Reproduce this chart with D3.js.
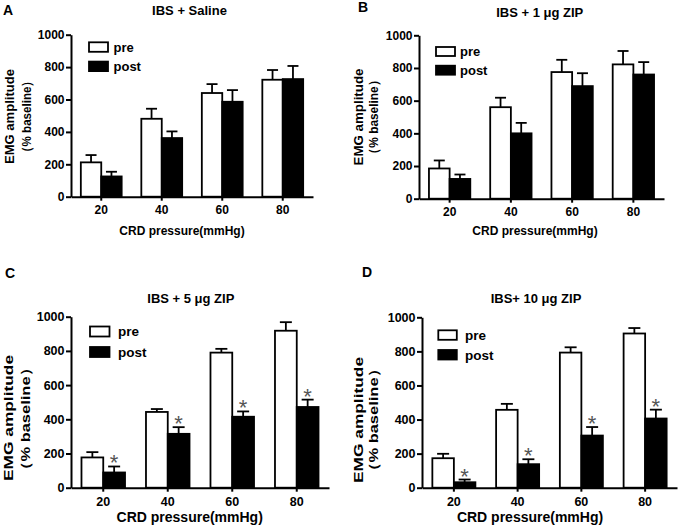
<!DOCTYPE html>
<html><head><meta charset="utf-8">
<script src="https://cdn.jsdelivr.net/npm/d3@7"></script>
<style>
body{margin:0;background:#fff}
svg{display:block}
text{font-family:"Liberation Sans",Arial,Helvetica,sans-serif;}
</style>
</head><body>
<svg id="c" width="679" height="530"></svg>
<script>
// ---------- data ----------
const categories = ["20", "40", "60", "80"];
const seriesNames = ["pre", "post"];
const titles = ["IBS + Saline", "IBS + 1 μg ZIP", "IBS + 5 μg ZIP", "IBS+ 10 μg ZIP"];
const letters = ["A", "B", "C", "D"];
const yTicks = [0, 200, 400, 600, 800, 1000];
const xLabel = "CRD pressure(mmHg)";
const yLabel1 = "EMG amplitude";
const yLabel2 = "（% baseline）";

const preA = [212, 481, 640, 722];
const preSemA = [45, 62, 55, 60];
const postA = [125, 362, 586, 726];
const postSemA = [29, 41, 72, 81];

const preB = [185, 560, 775, 822];
const preSemB = [49, 58, 75, 82];
const postB = [121, 400, 689, 760];
const postSemB = [27, 64, 79, 76];

const preC = [177, 443, 790, 918];
const preSemC = [31, 17, 22, 50];
const postC = [89, 315, 415, 472];
const postSemC = [35, 39, 31, 43];

const preD = [173, 457, 793, 905];
const preSemD = [26, 35, 31, 32];
const postD = [32, 138, 306, 406];
const postSemD = [16, 29, 50, 52];

const sigA = [0, 0, 0, 0];
const sigB = [0, 0, 0, 0];
const sigC = [1, 1, 1, 1];
const sigD = [1, 1, 1, 1];

// ---------- layout ----------
const panels = [
  {pre: preA, preSem: preSemA, post: postA, postSem: postSemA, sig: sigA,
   x0: 71, x1: 313, yb: 196.7, yt: 34.7,
   letter: [3, 15], title: [189.5, 15], xlab: [182, 235],
   yl1: [14.3, 116.5, 95], yl2: [31, 116.5, 83],
   leg: {x: 89, y: 42.3, w: 19, h: 9.5, dy: 19.3, tx: 113.5},
   tick: 12, xlabSize: 12, legSize: 13, cap: 11},
  {pre: preB, preSem: preSemB, post: postB, postSem: postSemB, sig: sigB,
   x0: 419, x1: 664, yb: 198.7, yt: 35.3,
   letter: [358, 11.5], title: [539.7, 17], xlab: [535, 235],
   yl1: [362.5, 117, 97], yl2: [378, 117, 85],
   leg: {x: 436, y: 47, w: 19, h: 9, dy: 18.7, tx: 460},
   tick: 12, xlabSize: 12, legSize: 13, cap: 11},
  {pre: preC, preSem: preSemC, post: postC, postSem: postSemC, sig: sigC,
   x0: 71, x1: 329, yb: 487.7, yt: 316.7,
   letter: [5, 278], title: [190.8, 302.7], xlab: [189.7, 522],
   yl1: [13, 418, 126], yl2: [29.5, 419, 118],
   leg: {x: 90, y: 326.5, w: 19.5, h: 10, dy: 20.5, tx: 118},
   tick: 12.5, xlabSize: 14, legSize: 13.5, cap: 12},
  {pre: preD, preSem: preSemD, post: postD, postSem: postSemD, sig: sigD,
   x0: 422, x1: 677, yb: 487.7, yt: 317.3,
   letter: [362, 277], title: [536, 302.7], xlab: [530, 522],
   yl1: [363, 420, 126], yl2: [377.5, 420, 118],
   leg: {x: 438.3, y: 330.3, w: 18.5, h: 9.5, dy: 19.7, tx: 465},
   tick: 12.5, xlabSize: 14, legSize: 13.5, cap: 12}
];

const svg = d3.select("#c");

panels.forEach((p, i) => {
  const g = svg.append("g");
  const x = d3.scaleBand().domain(categories).range([p.x0, p.x1])
    .paddingInner(0.325).paddingOuter(0.1625);
  const xs = d3.scaleBand().domain(seriesNames).range([0, x.bandwidth()]);
  const y = d3.scaleLinear().domain([0, 1000]).range([p.yb, p.yt]);

  const rows = categories.map((c, k) => ({c, k}));
  const series = [
    {name: "pre", vals: p.pre, sem: p.preSem, fill: "#fff"},
    {name: "post", vals: p.post, sem: p.postSem, fill: "#000"}
  ];
  series.forEach(s => {
    const sg = g.append("g");
    const cx = d => x(d.c) + xs(s.name) + xs.bandwidth() / 2;
    sg.selectAll("line.err").data(rows).join("line")
      .attr("x1", cx).attr("x2", cx)
      .attr("y1", d => y(s.vals[d.k]))
      .attr("y2", d => y(s.vals[d.k] + s.sem[d.k]))
      .attr("stroke", "#000").attr("stroke-width", 1.8);
    sg.selectAll("line.cap").data(rows).join("line")
      .attr("x1", d => cx(d) - p.cap / 2)
      .attr("x2", d => cx(d) + p.cap / 2)
      .attr("y1", d => y(s.vals[d.k] + s.sem[d.k]))
      .attr("y2", d => y(s.vals[d.k] + s.sem[d.k]))
      .attr("stroke", "#000").attr("stroke-width", 1.8);
    sg.selectAll("rect").data(rows).join("rect")
      .attr("x", d => x(d.c) + xs(s.name))
      .attr("width", xs.bandwidth())
      .attr("y", d => y(s.vals[d.k]))
      .attr("height", d => y(0) - y(s.vals[d.k]))
      .attr("fill", s.fill).attr("stroke", "#000").attr("stroke-width", 1.8);
  });

  // significance stars
  g.selectAll("text.star").data(rows.filter(d => p.sig[d.k])).join("text")
    .attr("x", d => x(d.c) + xs("post") + xs.bandwidth() / 2)
    .attr("y", d => y(p.post[d.k] + p.postSem[d.k]) + 4)
    .attr("text-anchor", "middle")
    .attr("font-size", 22).attr("fill", "#555")
    .text("*");

  // axes
  const ya = g.append("g").attr("transform", `translate(${p.x0},0)`)
    .call(d3.axisLeft(y).tickValues(yTicks).tickFormat(d3.format("d"))
      .tickSize(5).tickPadding(1.5).tickSizeOuter(0));
  const xa = g.append("g").attr("transform", `translate(0,${p.yb})`)
    .call(d3.axisBottom(x).tickSize(4).tickPadding(5).tickSizeOuter(0));
  [ya, xa].forEach(a => {
    a.select(".domain").attr("stroke", "#000").attr("stroke-width", 2);
    a.selectAll(".tick line").attr("stroke", "#000").attr("stroke-width", 2);
    a.selectAll(".tick text").attr("font-size", p.tick).attr("font-weight", "bold")
      .attr("fill", "#000").style("font-family", '"Liberation Sans",Arial,sans-serif');
  });

  // legend
  series.forEach((s, k) => {
    g.append("rect")
      .attr("x", p.leg.x).attr("y", p.leg.y + k * p.leg.dy)
      .attr("width", p.leg.w).attr("height", p.leg.h)
      .attr("fill", s.fill).attr("stroke", "#000").attr("stroke-width", 1.8);
    g.append("text")
      .attr("x", p.leg.tx).attr("y", p.leg.y + k * p.leg.dy + p.leg.h / 2)
      .attr("dy", "0.36em")
      .attr("font-size", p.legSize).attr("font-weight", "bold")
      .text(s.name);
  });

  // titles & labels
  g.append("text").attr("x", p.letter[0]).attr("y", p.letter[1])
    .attr("font-size", 14).attr("font-weight", "bold").text(letters[i]);
  g.append("text").attr("x", p.title[0]).attr("y", p.title[1])
    .attr("text-anchor", "middle").attr("font-size", 13).attr("font-weight", "bold")
    .text(titles[i]);
  g.append("text").attr("x", p.xlab[0]).attr("y", p.xlab[1])
    .attr("text-anchor", "middle").attr("font-size", p.xlabSize).attr("font-weight", "bold")
    .text(xLabel);
  g.append("text")
    .attr("transform", `translate(${p.yl1[0]},${p.yl1[1]}) rotate(-90)`)
    .attr("text-anchor", "middle").attr("font-size", 13).attr("font-weight", "bold")
    .attr("textLength", p.yl1[2]).attr("lengthAdjust", "spacingAndGlyphs")
    .text(yLabel1);
  g.append("text")
    .attr("transform", `translate(${p.yl2[0]},${p.yl2[1]}) rotate(-90)`)
    .attr("text-anchor", "middle").attr("font-size", 13).attr("font-weight", "bold")
    .attr("textLength", p.yl2[2]).attr("lengthAdjust", "spacingAndGlyphs")
    .text(yLabel2);
});
</script>
</body></html>
